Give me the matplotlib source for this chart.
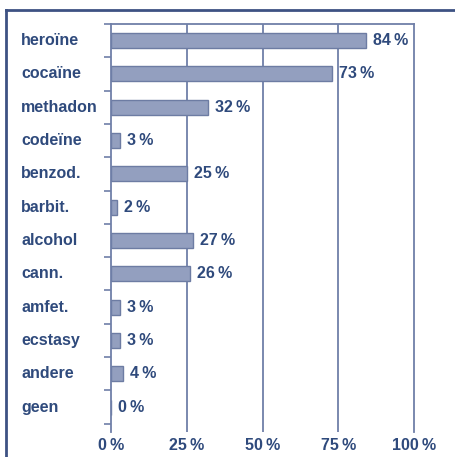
import numpy as np
import matplotlib.pyplot as plt
from matplotlib import font_manager

# data
categories = ["heroïne", "cocaïne", "methadon", "codeïne", "benzod.", "barbit.",
              "alcohol", "cann.", "amfet.", "ecstasy", "andere", "geen"]
values = [84, 73, 32, 3, 25, 2, 27, 26, 3, 3, 4, 0]
xticks = [0, 25, 50, 75, 100]

names = {f.name for f in font_manager.fontManager.ttflist}
family = "Liberation Sans Narrow" if "Liberation Sans Narrow" in names else "Liberation Sans"
plt.rcParams["font.family"] = [family, "DejaVu Sans"]

navy = "#2f4a7c"
line_col = "#6f7fa8"
bar_fill = "#939fbf"
bar_edge = "#6d7ca3"

W, H = 455, 457
fig = plt.figure(figsize=(W / 100, H / 100), dpi=100)

# outer frame (top and left edges only)
fig.add_artist(plt.Line2D([6 / W, 1], [1 - 10 / H, 1 - 10 / H], color="#3d5283", lw=2))
fig.add_artist(plt.Line2D([6 / W, 6 / W], [0, 1 - 10 / H], color="#3d5283", lw=2))

ax = fig.add_axes([111 / W, 1 - 432 / H, (414 - 111) / W, (432 - 24) / H])
y = np.arange(len(categories))
ax.barh(y, values, height=0.45, color=bar_fill, edgecolor=bar_edge, linewidth=1)

ax.set_xlim(0, 100)
ax.set_ylim(len(categories) - 0.5 + 0.25, -0.5)

for s in ["left", "right", "top"]:
    ax.spines[s].set_color(line_col)
    ax.spines[s].set_linewidth(1.3)
ax.spines["bottom"].set_visible(False)

for g in xticks[1:-1]:
    ax.axvline(g, color=line_col, lw=1.3, zorder=0)

ax.set_yticks(np.arange(len(categories) + 1) - 0.5)
ax.set_yticklabels([])
ax.tick_params(axis="y", length=5, width=1.2, color=line_col)
ax.set_xticks(xticks)
ax.set_xticklabels([f"{t}\u2009%" for t in xticks], color=navy,
                   fontsize=11.5, fontweight="bold")
ax.tick_params(axis="x", length=0, pad=4)

for yi, cat, v in zip(y, categories, values):
    # category name, left aligned near the frame
    ax.annotate(cat, xy=(0, yi), xycoords=("figure fraction", "data"),
                xytext=(21, 0), textcoords="offset pixels",
                ha="left", va="center", color=navy, fontsize=11.5, fontweight="bold")
    # value label after the bar
    ax.annotate(f"{v}\u2009%", xy=(v, yi), xytext=(7, 0), textcoords="offset pixels",
                ha="left", va="center", color=navy, fontsize=11.5, fontweight="bold")

fig.savefig("out.png", dpi=100)
